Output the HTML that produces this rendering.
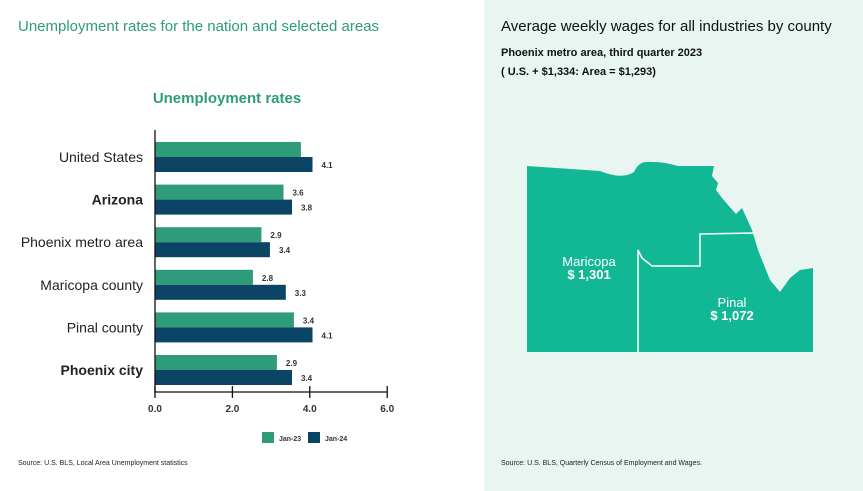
<!DOCTYPE html>
<html><head><meta charset="utf-8"><style>
body{margin:0;width:863px;height:491px;overflow:hidden;background:#fff;font-family:"Liberation Sans",sans-serif;position:relative}
.t{position:absolute;white-space:nowrap}
</style></head><body>
<div class="t" style="left:18px;top:18px;font-size:15px;color:#2e9c7a">Unemployment rates for the nation and selected areas</div>
<div style="position:absolute;left:484px;top:0;width:379px;height:491px;background:#e8f5f0"></div>
<div class="t" style="left:501px;top:18px;font-size:15px;color:#111">Average weekly wages for all industries by county</div>
<div class="t" style="left:501px;top:47px;font-size:11px;font-weight:bold;color:#111">Phoenix metro area, third quarter 2023</div>
<div class="t" style="left:501px;top:66px;font-size:11px;font-weight:bold;color:#111">( U.S. + $1,334: Area = $1,293)</div>
<div class="t" style="left:18px;top:460px;font-size:7px;color:#222">Source: U.S. BLS, Local Area Unemployment statistics</div>
<div class="t" style="left:501px;top:460px;font-size:7px;color:#222">Source: U.S. BLS, Quarterly Census of Employment and Wages.</div>

<svg id="chart" width="484" height="491" style="position:absolute;left:0;top:0">
<text x="227" y="103" text-anchor="middle" font-size="15" font-weight="bold" fill="#2e9c7a">Unemployment rates</text>
</svg>

<svg width="863" height="491" style="position:absolute;left:0;top:0">
<path d="M527,166 L600,171 Q622,180 634,172 Q638,163 645,162 Q662,161 678,166 L714,166 L712,176 L718,183 L716,190 L722,198 L728,205 L736,214 L742,208 L752,230 L758,250 L770,280 L780,292 L790,278 L800,270 L813,268 L813,352 L527,352 Z" fill="#12b896"/>
<path d="M638,352 L638,250 L642,258 L652,266 L700,266 L700,234 L755,233" fill="none" stroke="#fff" stroke-width="1.5"/>
<text x="589" y="266" text-anchor="middle" font-size="13" fill="#fff">Maricopa</text>
<text x="589" y="279" text-anchor="middle" font-size="13" font-weight="bold" fill="#fff">$ 1,301</text>
<text x="732" y="307" text-anchor="middle" font-size="13" fill="#fff">Pinal</text>
<text x="732" y="320" text-anchor="middle" font-size="13" font-weight="bold" fill="#fff">$ 1,072</text>
</svg>

<script>
const categories=["United States","Arizona","Phoenix metro area","Maricopa county","Pinal county","Phoenix city"];
const boldCats=[false,true,false,false,false,true];
const jan23=[3.77,3.32,2.75,2.53,3.59,3.15];
const jan24=[4.07,3.54,2.97,3.38,4.07,3.54];
const jan23Labels=["","3.6","2.9","2.8","3.4","2.9"];
const jan24Labels=["4.1","3.8","3.4","3.3","4.1","3.4"];
const ticks=[0,2,4,6];
const tickLabels=["0.0","2.0","4.0","6.0"];
const svg=document.getElementById('chart');
const NS="http://www.w3.org/2000/svg";
const x0=155,ux=38.7,yTop=142,gap=42.6,bh=15;
const X=v=>x0+v*ux;
function mk(t,a){const e=document.createElementNS(NS,t);for(const k in a)e.setAttribute(k,a[k]);svg.appendChild(e);return e;}
categories.forEach((c,i)=>{
  const y=yTop+i*gap;
  let r=mk('rect',{x:x0,y:y,width:X(jan23[i])-x0,height:bh,fill:'#2e9c7a'});
  
  
  r=mk('rect',{x:x0,y:y+bh,width:X(jan24[i])-x0,height:bh,fill:'#0c4466'});
  
  
  let t;
  if(jan23Labels[i]){t=mk('text',{x:X(jan23[i])+9,y:y+11,'font-size':8,'font-weight':'bold',fill:'#333'});t.textContent=jan23Labels[i];
  
  }
  t=mk('text',{x:X(jan24[i])+9,y:y+bh+11,'font-size':8,'font-weight':'bold',fill:'#333'});t.textContent=jan24Labels[i];
  
  
  t=mk('text',{x:143,y:y+bh+5,'text-anchor':'end','font-size':14,'font-weight':boldCats[i]?'bold':'normal',fill:'#222'});t.textContent=c;
  
  
});
let l=mk('line',{x1:x0,y1:130,x2:x0,y2:393,stroke:'#111','stroke-width':1.3});


l=mk('line',{x1:x0,y1:392,x2:X(6),y2:392,stroke:'#111','stroke-width':1.3});


ticks.forEach((v,i)=>{
  let k=mk('line',{x1:X(v),y1:386,x2:X(v),y2:398,stroke:'#111','stroke-width':1.3});
  
  
  let t=mk('text',{x:X(v),y:412,'text-anchor':'middle','font-size':10,'font-weight':'bold',fill:'#333'});t.textContent=tickLabels[i];
  
  
});
[['#2e9c7a','Jan-23',262],['#0c4466','Jan-24',308]].forEach(([c,n,x])=>{
  let r=mk('rect',{x:x,y:432,width:12,height:11,fill:c});
  
  
  let t=mk('text',{x:x+17,y:441,'font-size':7,'font-weight':'bold',fill:'#333'});t.textContent=n;
  
  
});
</script>
</body></html>
